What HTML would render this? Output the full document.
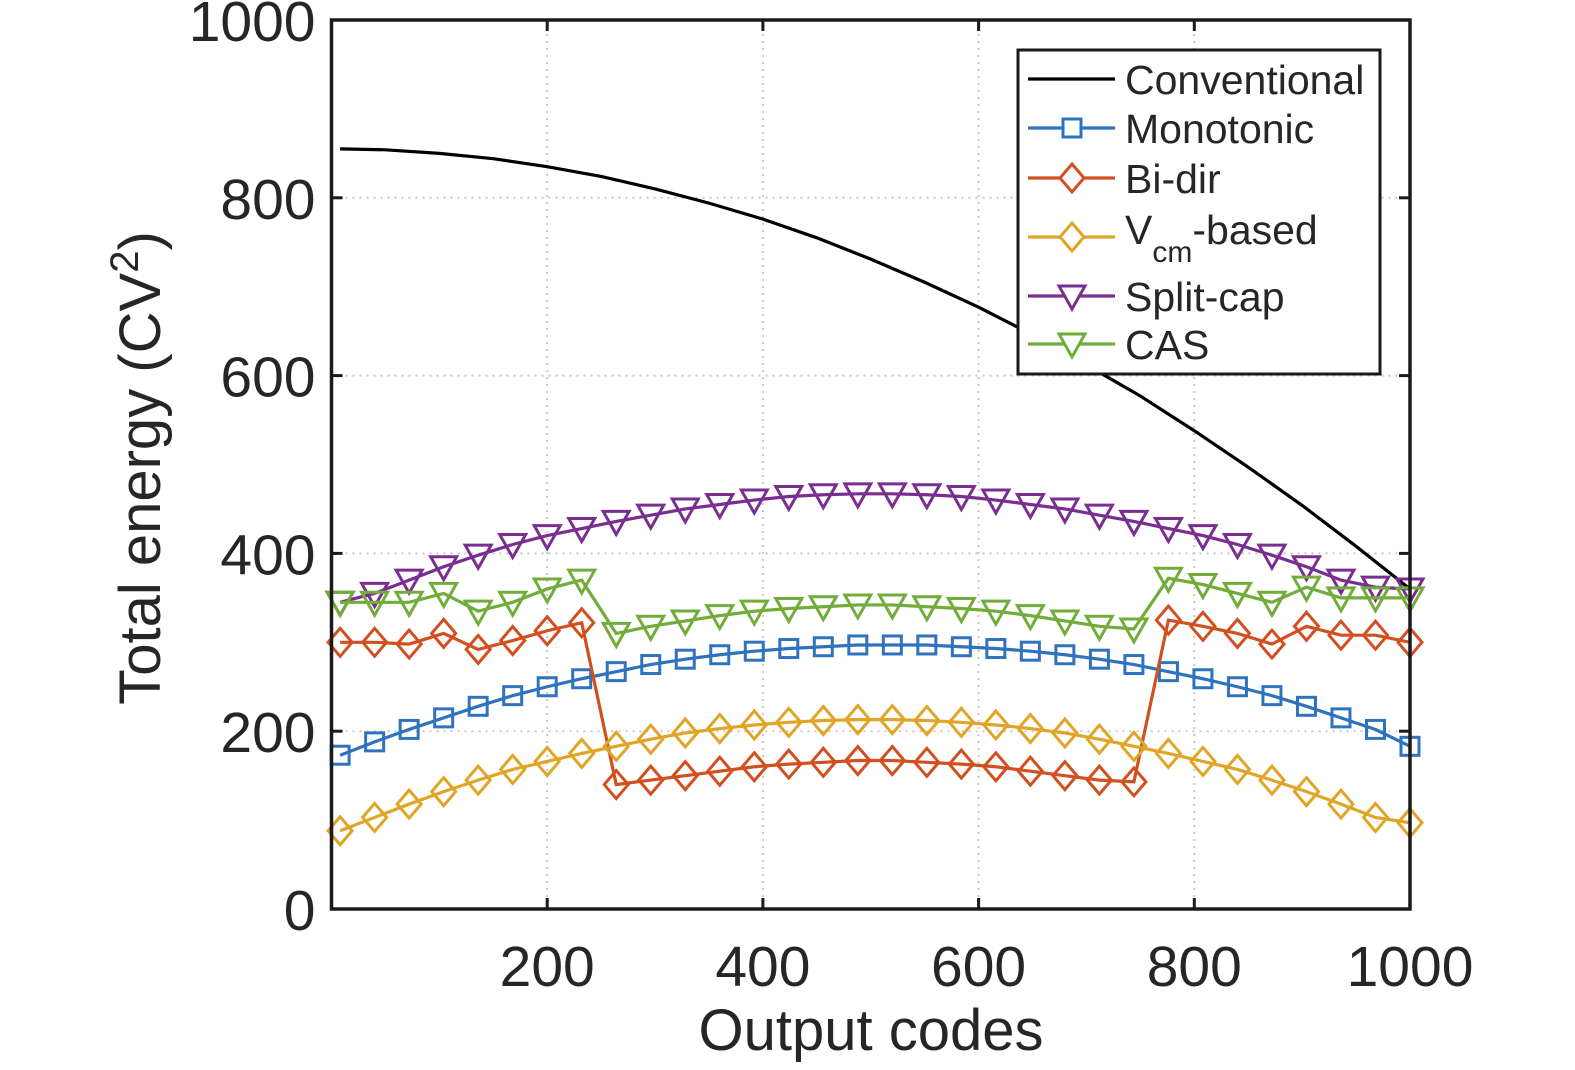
<!DOCTYPE html>
<html><head><meta charset="utf-8"><style>
html,body{margin:0;padding:0;background:#fff;}
svg{display:block;font-family:"Liberation Sans",Arial,sans-serif;}
</style></head><body>
<svg id="chart" width="1575" height="1070" viewBox="0 0 1575 1070" xmlns="http://www.w3.org/2000/svg"></svg>
<script>
const codes = [8,40,72,104,136,168,200,232,264,296,328,360,392,424,456,488,520,552,584,616,648,680,712,744,776,808,840,872,904,936,968,1000];
const convX = [8,50,100,150,200,250,300,350,400,450,500,550,600,650,700,750,800,850,900,950,1000];
const convY = [855,854,850,844,835,824,810,794,776,755,731,705,677,646,612,577,538,497,454,408,360];
const monotonic = [173,188,202,215,228,240,250,259,267,275,281,286,290,293,295,297,297,297,295,293,290,286,281,275,267,259,250,240,228,215,202,183];
const bidir = [300,300,298,310,292,302,313,322,140,145,150,155,160,163,165,167,167,165,163,160,155,150,145,143,325,318,310,298,318,308,308,300];
const vcm = [88,103,118,132,145,157,166,175,183,191,198,203,207,210,212,213,213,212,210,207,203,198,191,183,175,166,157,145,132,118,103,97];
const splitcap = [345,355,370,385,398,410,420,428,436,443,450,455,460,464,466,467,467,466,464,460,455,450,443,436,428,420,410,398,385,370,362,360];
const cas = [345,345,345,355,335,345,360,370,310,318,324,330,335,338,340,342,342,340,338,335,330,324,318,315,372,365,355,345,362,350,350,350];
const xTicks = [200,400,600,800,1000];
const yTicks = [0,200,400,600,800,1000];

const NS="http://www.w3.org/2000/svg";
const svg=document.getElementById('chart');
const L=331.5,R=1410,T=20,B=909;
const sx=v=>L+(v-0)/(1000-0)*(R-L);
const sy=v=>B-(v/1000)*(B-T);
function mk(tag,attrs,parent){const e=document.createElementNS(NS,tag);for(const k in attrs)e.setAttribute(k,attrs[k]);(parent||svg).appendChild(e);return e;}

const grid=mk('g',{});


xTicks.forEach(t=>{if(t<1000)mk('line',{x1:sx(t),x2:sx(t),y1:T,y2:B,stroke:'#c8c8c8','stroke-width':2,'stroke-dasharray':'2,5'},grid);});
yTicks.forEach(t=>{if(t>0&&t<1000)mk('line',{x1:L,x2:R,y1:sy(t),y2:sy(t),stroke:'#c8c8c8','stroke-width':2,'stroke-dasharray':'2,5'},grid);});

function line(xs,ys,color,name){const p=mk('polyline',{points:xs.map((x,i)=>sx(x)+','+sy(ys[i])).join(' '),fill:'none',stroke:color,'stroke-width':3.2});

return p;}
function marker(type,cx,cy,color,parent){
 if(type==='sq')return mk('rect',{x:cx-9,y:cy-9,width:18,height:18,fill:'none',stroke:color,'stroke-width':3},parent);
 if(type==='di')return mk('polygon',{points:`${cx},${cy-14} ${cx+12},${cy} ${cx},${cy+14} ${cx-12},${cy}`,fill:'none',stroke:color,'stroke-width':3},parent);
 return mk('polygon',{points:`${cx-13},${cy-10} ${cx+13},${cy-10} ${cx},${cy+13}`,fill:'none',stroke:color,'stroke-width':3},parent);
}
function series(vals,color,type,name){
 line(codes,vals,color,name+'-line');
 const g=mk('g',{});
 
 
 vals.forEach((v,i)=>marker(type,sx(codes[i]),sy(v),color,g));
}
line(convX,convY,'#000','conventional-line');
series(monotonic,'#2f72bd','sq','monotonic');
series(bidir,'#d24f1f','di','bi-dir');
series(vcm,'#e0a526','di','vcm-based');
series(splitcap,'#7a2e91','tri','split-cap');
series(cas,'#72ac3a','tri','cas');

const ax=mk('rect',{x:L,y:T,width:R-L,height:B-T,fill:'none',stroke:'#1a1a1a','stroke-width':3.5});


xTicks.forEach(t=>{mk('line',{x1:sx(t),x2:sx(t),y1:B,y2:B-11,stroke:'#1a1a1a','stroke-width':3});mk('line',{x1:sx(t),x2:sx(t),y1:T,y2:T+11,stroke:'#1a1a1a','stroke-width':3});
 const tx=mk('text',{x:sx(t),y:B+77,'font-size':57,'text-anchor':'middle',fill:'#262626'});tx.textContent=t;
 
 });
yTicks.forEach(t=>{mk('line',{x1:L,x2:L+11,y1:sy(t),y2:sy(t),stroke:'#1a1a1a','stroke-width':3});mk('line',{x1:R,x2:R-11,y1:sy(t),y2:sy(t),stroke:'#1a1a1a','stroke-width':3});
 const tx=mk('text',{x:L-16,y:sy(t)+21,'font-size':57,'text-anchor':'end',fill:'#262626'});tx.textContent=t;
 
 });
</script>
<svg style="position:absolute;left:0;top:0" width="1575" height="1070">
 <text x="871" y="1050" font-size="58" text-anchor="middle" fill="#262626" font-family="Liberation Sans, sans-serif">Output codes</text>
 <text transform="translate(160,468) rotate(-90)" font-size="58" text-anchor="middle" fill="#262626" font-family="Liberation Sans, sans-serif">Total energy (CV<tspan dy="-22" font-size="40">2</tspan><tspan dy="22">)</tspan></text>
 <g font-family="Liberation Sans, sans-serif" font-size="41" fill="#262626">
  <rect x="1018" y="50" width="362" height="324" fill="#fff" stroke="#1a1a1a" stroke-width="3"/>
  <line x1="1028" x2="1115" y1="79" y2="79" stroke="#000" stroke-width="3.2"/>
  <text x="1125" y="94">Conventional</text>
  <line x1="1028" x2="1115" y1="128" y2="128" stroke="#2f72bd" stroke-width="3.2"/>
  <rect x="1063" y="119" width="18" height="18" fill="#fff" stroke="#2f72bd" stroke-width="3"/>
  <text x="1125" y="143">Monotonic</text>
  <line x1="1028" x2="1115" y1="178" y2="178" stroke="#d24f1f" stroke-width="3.2"/>
  <polygon points="1072,164 1084,178 1072,192 1060,178" fill="#fff" stroke="#d24f1f" stroke-width="3"/>
  <text x="1125" y="193">Bi-dir</text>
  <line x1="1028" x2="1115" y1="237" y2="237" stroke="#e0a526" stroke-width="3.2"/>
  <polygon points="1072,223 1084,237 1072,251 1060,237" fill="#fff" stroke="#e0a526" stroke-width="3"/>
  <text x="1125" y="244">V<tspan dy="18" font-size="30">cm</tspan><tspan dy="-18">-based</tspan></text>
  <line x1="1028" x2="1115" y1="296" y2="296" stroke="#7a2e91" stroke-width="3.2"/>
  <polygon points="1059,286 1085,286 1072,309" fill="#fff" stroke="#7a2e91" stroke-width="3"/>
  <text x="1125" y="311">Split-cap</text>
  <line x1="1028" x2="1115" y1="344" y2="344" stroke="#72ac3a" stroke-width="3.2"/>
  <polygon points="1059,334 1085,334 1072,357" fill="#fff" stroke="#72ac3a" stroke-width="3"/>
  <text x="1125" y="359">CAS</text>
 </g>
</svg>
</body></html>
